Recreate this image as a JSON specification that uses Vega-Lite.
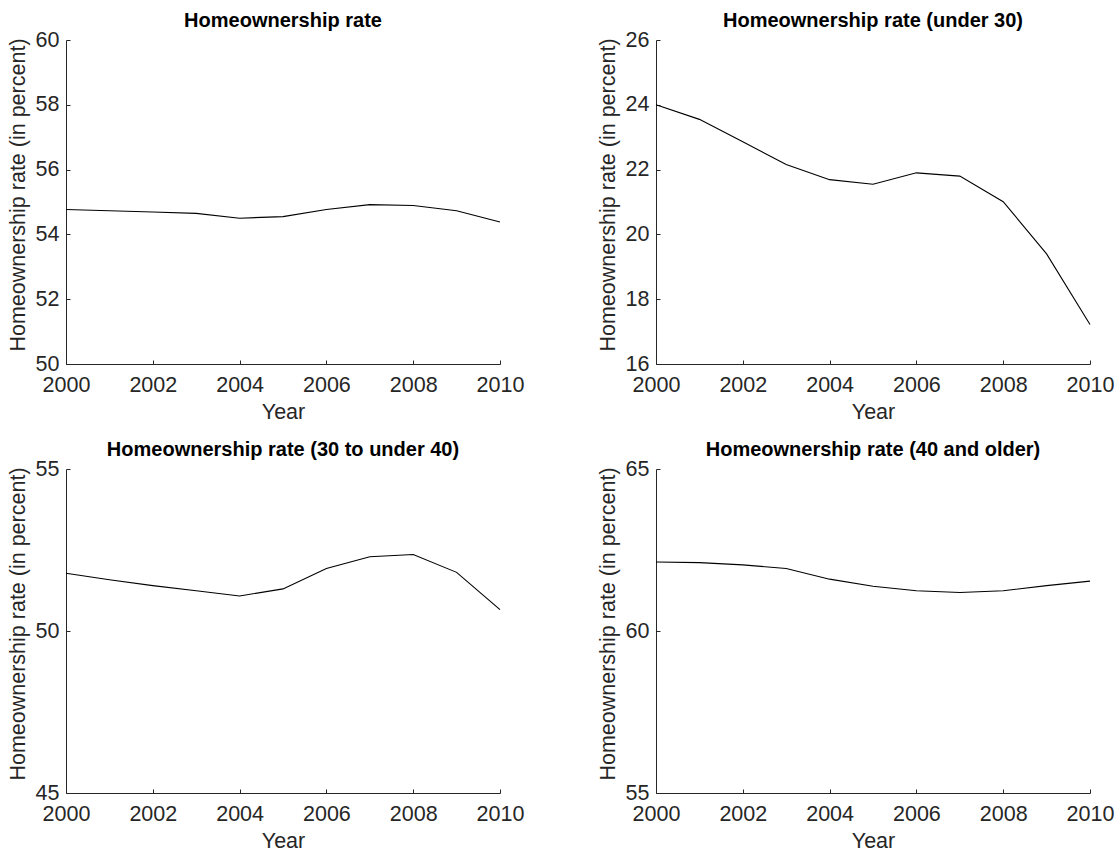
{
  "$schema": "https://vega.github.io/schema/vega-lite/v6.json",
  "background": "white",
  "padding": {"left": 7, "top": 11, "right": 5, "bottom": 5},
  "datasets": {
    "rates": [
      {"group": "all", "year": 2000, "rate": 54.77},
      {"group": "all", "year": 2001, "rate": 54.73},
      {"group": "all", "year": 2002, "rate": 54.69},
      {"group": "all", "year": 2003, "rate": 54.65},
      {"group": "all", "year": 2004, "rate": 54.50},
      {"group": "all", "year": 2005, "rate": 54.55},
      {"group": "all", "year": 2006, "rate": 54.77},
      {"group": "all", "year": 2007, "rate": 54.92},
      {"group": "all", "year": 2008, "rate": 54.89},
      {"group": "all", "year": 2009, "rate": 54.73},
      {"group": "all", "year": 2010, "rate": 54.38},
      {"group": "u30", "year": 2000, "rate": 24.00},
      {"group": "u30", "year": 2001, "rate": 23.55},
      {"group": "u30", "year": 2002, "rate": 22.86},
      {"group": "u30", "year": 2003, "rate": 22.16},
      {"group": "u30", "year": 2004, "rate": 21.69},
      {"group": "u30", "year": 2005, "rate": 21.55},
      {"group": "u30", "year": 2006, "rate": 21.90},
      {"group": "u30", "year": 2007, "rate": 21.80},
      {"group": "u30", "year": 2008, "rate": 21.01},
      {"group": "u30", "year": 2009, "rate": 19.40},
      {"group": "u30", "year": 2010, "rate": 17.22},
      {"group": "30to40", "year": 2000, "rate": 51.78},
      {"group": "30to40", "year": 2001, "rate": 51.58},
      {"group": "30to40", "year": 2002, "rate": 51.40},
      {"group": "30to40", "year": 2003, "rate": 51.24},
      {"group": "30to40", "year": 2004, "rate": 51.08},
      {"group": "30to40", "year": 2005, "rate": 51.30},
      {"group": "30to40", "year": 2006, "rate": 51.93},
      {"group": "30to40", "year": 2007, "rate": 52.29},
      {"group": "30to40", "year": 2008, "rate": 52.36},
      {"group": "30to40", "year": 2009, "rate": 51.81},
      {"group": "30to40", "year": 2010, "rate": 50.66},
      {"group": "40plus", "year": 2000, "rate": 62.13},
      {"group": "40plus", "year": 2001, "rate": 62.11},
      {"group": "40plus", "year": 2002, "rate": 62.04},
      {"group": "40plus", "year": 2003, "rate": 61.93},
      {"group": "40plus", "year": 2004, "rate": 61.60},
      {"group": "40plus", "year": 2005, "rate": 61.38},
      {"group": "40plus", "year": 2006, "rate": 61.24},
      {"group": "40plus", "year": 2007, "rate": 61.19},
      {"group": "40plus", "year": 2008, "rate": 61.24},
      {"group": "40plus", "year": 2009, "rate": 61.40},
      {"group": "40plus", "year": 2010, "rate": 61.54}
    ]
  },
  "columns": 2,
  "bounds": "flush",
  "spacing": {"column": 156, "row": 105},
  "concat": [
    {
      "title": "Homeownership rate",
      "width": 434, "height": 324,
      "data": {"name": "rates"},
      "transform": [{"filter": "datum.group === 'all'"}],
      "mark": {"type": "line", "color": "black", "strokeWidth": 1.1},
      "encoding": {
        "x": {"field": "year", "type": "quantitative", "title": "Year", "scale": {"domain": [2000, 2010]}, "axis": {"values": [2000, 2002, 2004, 2006, 2008, 2010]}},
        "y": {"field": "rate", "type": "quantitative", "title": "Homeownership rate (in percent)", "scale": {"domain": [50, 60]}, "axis": {"values": [50, 52, 54, 56, 58, 60]}}
      }
    },
    {
      "title": "Homeownership rate (under 30)",
      "width": 434, "height": 324,
      "data": {"name": "rates"},
      "transform": [{"filter": "datum.group === 'u30'"}],
      "mark": {"type": "line", "color": "black", "strokeWidth": 1.1},
      "encoding": {
        "x": {"field": "year", "type": "quantitative", "title": "Year", "scale": {"domain": [2000, 2010]}, "axis": {"values": [2000, 2002, 2004, 2006, 2008, 2010]}},
        "y": {"field": "rate", "type": "quantitative", "title": "Homeownership rate (in percent)", "scale": {"domain": [16, 26]}, "axis": {"values": [16, 18, 20, 22, 24, 26]}}
      }
    },
    {
      "title": "Homeownership rate (30 to under 40)",
      "width": 434, "height": 324,
      "data": {"name": "rates"},
      "transform": [{"filter": "datum.group === '30to40'"}],
      "mark": {"type": "line", "color": "black", "strokeWidth": 1.1},
      "encoding": {
        "x": {"field": "year", "type": "quantitative", "title": "Year", "scale": {"domain": [2000, 2010]}, "axis": {"values": [2000, 2002, 2004, 2006, 2008, 2010]}},
        "y": {"field": "rate", "type": "quantitative", "title": "Homeownership rate (in percent)", "scale": {"domain": [45, 55]}, "axis": {"values": [45, 50, 55]}}
      }
    },
    {
      "title": "Homeownership rate (40 and older)",
      "width": 434, "height": 324,
      "data": {"name": "rates"},
      "transform": [{"filter": "datum.group === '40plus'"}],
      "mark": {"type": "line", "color": "black", "strokeWidth": 1.1},
      "encoding": {
        "x": {"field": "year", "type": "quantitative", "title": "Year", "scale": {"domain": [2000, 2010]}, "axis": {"values": [2000, 2002, 2004, 2006, 2008, 2010]}},
        "y": {"field": "rate", "type": "quantitative", "title": "Homeownership rate (in percent)", "scale": {"domain": [55, 65]}, "axis": {"values": [55, 60, 65]}}
      }
    }
  ],
  "config": {
    "font": "Liberation Sans",
    "view": {"stroke": null},
    "title": {"font": "Liberation Sans", "fontSize": 20, "fontWeight": "bold", "color": "black", "anchor": "middle", "offset": -2},
    "axis": {
      "grid": false,
      "domainColor": "#262626",
      "domainWidth": 1,
      "tickColor": "#262626",
      "tickSize": -4,
      "labelFont": "Liberation Sans",
      "labelFontSize": 21.5,
      "labelColor": "#262626",
      "titleFont": "Liberation Sans",
      "titleFontSize": 21.5,
      "titleFontWeight": "normal",
      "titleColor": "#262626"
    },
    "axisX": {"format": "d", "labelPadding": 14, "titlePadding": 6, "labelFlush": false, "labelOverlap": false},
    "axisY": {"labelPadding": 11, "titlePadding": 6, "titleY": 154.5, "labelFlush": false, "labelOverlap": false}
  }
}
